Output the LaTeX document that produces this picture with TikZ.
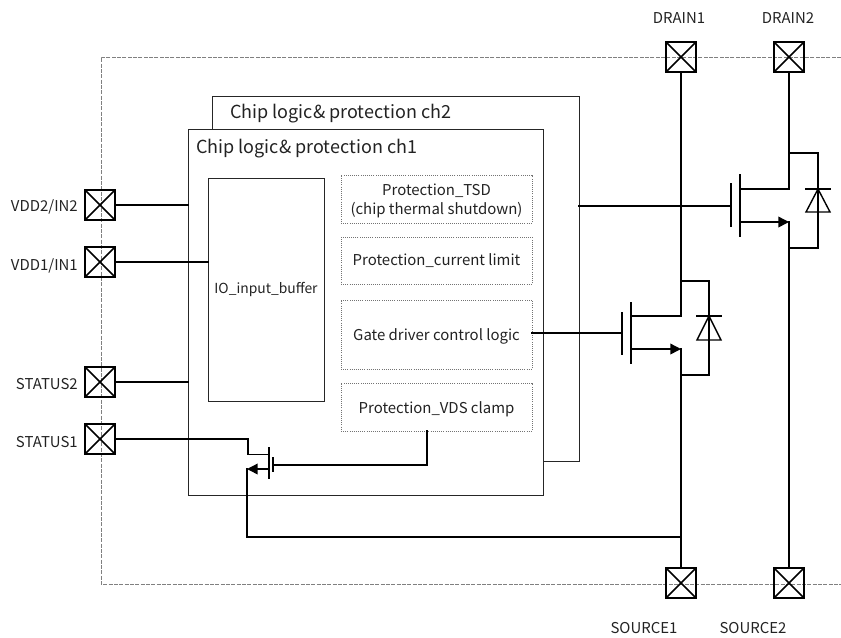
\documentclass[tikz,border=0pt]{standalone}
\usepackage{fontspec}
\setmainfont{Noto Sans CJK SC}
\usetikzlibrary{arrows.meta}
\definecolor{txt}{HTML}{222222}
\tikzset{
  x=0.75pt,y=-0.75pt,
  pad/.style={draw=black,line width=1.5pt,minimum size=22.5pt,inner sep=0pt,outer sep=0pt,fill=none,
    path picture={\draw[line width=1.1pt] (path picture bounding box.north west)--(path picture bounding box.south east)
      (path picture bounding box.north east)--(path picture bounding box.south west);}},
  lab/.style={font=\fontsize{11.2pt}{13pt}\selectfont,text=txt,inner sep=0pt},
  wire/.style={line width=1.05pt,line cap=rect},
  blk/.style={draw=black!85,line width=0.75pt,inner sep=0pt,outer sep=0pt},
  prot/.style={draw=black!55,line width=0.6pt,densely dotted,inner sep=0pt,outer sep=0pt,align=center,text=txt,
     font=\fontsize{11.2pt}{14.3pt}\selectfont},
  head/.style={font=\fontsize{13.5pt}{16pt}\selectfont,text=txt,inner sep=0pt},
  arrowwire/.style={wire,-{Triangle[length=8pt,width=8pt]}},
  bar/.style={line width=1.05pt},
}
\begin{document}
\begin{tikzpicture}
\useasboundingbox (0,0) rectangle (841,637);
% package outline
\draw[black!50,line width=0.5pt,dash pattern=on 3pt off 1pt] (841,57)--(101,57)--(101,584)--(841,584);
% channel 2 frame
\coordinate (c2a) at (212,129);
\coordinate (c2b) at (543,461);
\draw[blk] (c2a)--(212,96)--(579,96)--(579,461)--(c2b);
\node[head,anchor=west] (t2) at (230,114) {Chip logic\& protection ch2};
% channel 1 frame
\node[blk,minimum width=266.25pt,minimum height=274.5pt,anchor=north west] (ch1) at (188,129) {};
\node[head,anchor=west] (t1) at (196,149) {Chip logic\& protection ch1};
% blocks
\node[blk,minimum width=87pt,minimum height=167.25pt,anchor=north west,font=\fontsize{10.4pt}{12pt}\selectfont,text=txt] (io) at (208,178) {IO\_input\_buffer};
\node[prot,minimum width=143.25pt,minimum height=36pt,anchor=north west] (tsd) at (341,175) {};
\node[prot,draw=none,anchor=center] (tsdt) at (436.5,201) {Protection\_TSD\\(chip thermal shutdown)};
\node[prot,minimum width=143.25pt,minimum height=35.25pt,anchor=north west] (cl) at (341,237) {};
\node[prot,draw=none,anchor=center] (clt) at (436.5,261) {Protection\_current limit};
\node[prot,minimum width=143.25pt,minimum height=51.75pt,anchor=north west] (gd) at (341,300) {};
\node[prot,draw=none,anchor=center] (gdt) at (436.5,336) {Gate driver control logic};
\node[prot,minimum width=143.25pt,minimum height=36pt,anchor=north west] (vc) at (341,383) {};
\node[prot,draw=none,anchor=center] (vct) at (436.5,409) {Protection\_VDS clamp};
% pads
\node[pad] (d1) at (681,57) {};
\node[pad] (d2) at (789,57) {};
\node[pad] (s1) at (681,583) {};
\node[pad] (s2) at (789,583) {};
\node[pad] (p1) at (100,205) {};
\node[pad] (p2) at (100,262) {};
\node[pad] (p3) at (100,382) {};
\node[pad] (p4) at (100,439) {};
\node[lab] (ld1) at (679,18) {DRAIN1};
\node[lab] (ld2) at (788,18) {DRAIN2};
\node[lab] (ls1) at (644,628) {SOURCE1};
\node[lab] (ls2) at (753,628) {SOURCE2};
\node[lab,anchor=east] (lp1) at (78,207) {VDD2/IN2};
\node[lab,anchor=east] (lp2) at (78,266) {VDD1/IN1};
\node[lab,anchor=east] (lp3) at (78,384) {STATUS2};
\node[lab,anchor=east] (lp4) at (78,442) {STATUS1};
% pad wires
\draw[wire] (p1.east)--(ch1.west|-p1.east);
\draw[wire] (p2.east)--(io.west|-p2.east);
\draw[wire] (p3.east)--(ch1.west|-p3.east);
\draw[wire] (p4.east)--(248,439)--(248,454.5)--(269,454.5);
% small FET
\coordinate (sg) at (273,465);
\coordinate (sgc) at (427,465);
\coordinate (g1) at (622,333);
\coordinate (j1) at (681,537);
\draw[bar] (269,447)--(269,479);
\draw[bar] (273,457)--(273,472);
\draw[wire] (sg)--(sgc)--(vc.south-|sgc);
\draw[arrowwire] (269,469)--(247,469);
\draw[wire] (247,469)--(247,537)--(j1);
% FET 1
\draw[wire] (d1.south)--(681,316)--(631,316);
\draw[arrowwire] (631,349)--(681,349);
\draw[wire] (681,349)--(s1.north);
\draw[bar] (631,302)--(631,364);
\draw[bar] (622,312)--(622,355);
\draw[wire] (gd.east|-g1)--(g1);
\draw[wire] (681,281)--(709,281)--(709,375)--(681,375);
\draw[bar] (696,316)--(722,316);
\draw[bar] (709,316)--(697,340)--(721,340)--cycle;
% FET 2
\draw[wire] (d2.south)--(789,189)--(740,189);
\draw[arrowwire] (740,222)--(789,222);
\draw[wire] (789,222)--(s2.north);
\draw[bar] (740,174)--(740,237);
\draw[bar] (731,183)--(731,227);
\draw[wire] (579,206)--(731,206);
\draw[wire] (789,153)--(818,153)--(818,248)--(789,248);
\draw[bar] (805,189)--(831,189);
\draw[bar] (818,189)--(806,212)--(830,212)--cycle;
\end{tikzpicture}
\end{document}
